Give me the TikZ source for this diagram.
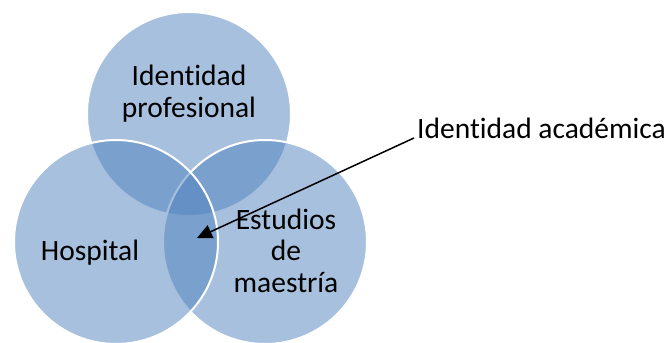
\documentclass[tikz,border=0pt]{standalone}
\usepackage{fontspec}
\setmainfont{Carlito}[Ligatures=NoCommon]
\usetikzlibrary{arrows.meta}
\begin{document}
\begin{tikzpicture}[x=1pt, y=-1pt,
    set/.style ={fill={rgb,255:red,79;green,129;blue,189}, fill opacity=0.5,
                 draw=white, line width=2pt},
    caption/.style ={align=center, font=\fontsize{29.5}{31.5}\selectfont, inner sep=0pt}]
   \useasboundingbox (0,0) rectangle (665,343);
   % the three sets
   \filldraw[set] (189,114) circle [radius=102pt];
   \filldraw[set] (265,242) circle [radius=102pt];
   \filldraw[set] (116,242) circle [radius=102pt];
   \node[caption] (P) [anchor=base] at (189,117) {Identidad\\profesional};
   \node[caption] (H) [anchor=base] at (90,260)  {Hospital};
   \node[caption] (E) [anchor=base] at (286,292) {Estudios\\de\\maestría};
   \node[caption, anchor=base west, inner sep=3pt] (A) at (414,138) {Identidad académica};
   \coordinate (center) at (197,238);
   \draw[line width=1.5pt, -{Triangle[length=15pt, width=14pt]}] (A.base west) to (center);
\end{tikzpicture}
\end{document}
